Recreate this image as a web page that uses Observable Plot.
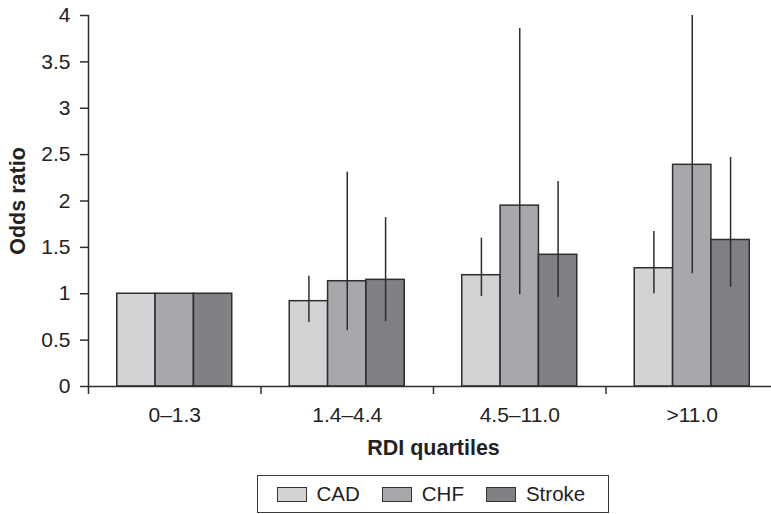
<!DOCTYPE html>
<html>
<head>
<meta charset="utf-8">
<script src="https://cdn.jsdelivr.net/npm/d3@7"></script>
<script src="https://cdn.jsdelivr.net/npm/@observablehq/plot@0.6"></script>
<style>
  html, body { margin: 0; padding: 0; background: #fff; overflow: hidden; width: 771px; height: 514px; }
  #chart { position: relative; width: 771px; height: 514px; }
  #chart svg { max-width: none !important; display: block; }
  svg [aria-label="y-axis label"] text, svg [aria-label="fx-axis label"] text { font-weight: bold; font-size: 21.5px; }
  .legend { position: absolute; left: 257px; top: 475px; width: 352px; height: 38px; box-sizing: border-box;
    border: 1.5px solid #3a3a3a; display: flex; align-items: center; justify-content: flex-start; padding-left: 18.5px;
    font-family: "Liberation Sans", Arial, sans-serif; font-size: 20.5px; color: #222; background: #fff; }
  .item { display: flex; align-items: center; margin-right: 22px; }
  .sw { width: 30px; height: 15px; box-sizing: border-box; border: 1.5px solid #333; margin-right: 10px; }
</style>
</head>
<body>
<div id="chart"></div>
<script>
const categories = ["0–1.3", "1.4–4.4", "4.5–11.0", ">11.0"];
const seriesNames = ["CAD", "CHF", "Stroke"];
const colors = ["#d2d3d5", "#a7a8ac", "#808185"];
// odds ratio per series, by category
const cadValues    = [1.0, 0.92, 1.20, 1.275];
const chfValues    = [1.0, 1.135, 1.95, 2.39];
const strokeValues = [1.0, 1.15, 1.42, 1.58];
// confidence interval bounds (null = none shown)
const cadLow     = [null, 0.69, 0.97, 1.00];
const cadHigh    = [null, 1.19, 1.60, 1.67];
const chfLow     = [null, 0.60, 0.99, 1.215];
const chfHigh    = [null, 2.31, 3.86, 4.0];
const strokeLow  = [null, 0.70, 0.96, 1.07];
const strokeHigh = [null, 1.82, 2.21, 2.47];
const yTicks = [0, 0.5, 1, 1.5, 2, 2.5, 3, 3.5, 4];

const valuesBySeries = [cadValues, chfValues, strokeValues];
const lowBySeries = [cadLow, chfLow, strokeLow];
const highBySeries = [cadHigh, chfHigh, strokeHigh];

const rows = [];
categories.forEach((c, i) => {
  seriesNames.forEach((s, j) => {
    rows.push({cat: c, series: s, value: valuesBySeries[j][i], lo: lowBySeries[j][i], hi: highBySeries[j][i]});
  });
});
const errRows = rows.filter(d => d.lo != null);

const W = 780;
const plot = Plot.plot({
  width: W,
  height: 470,
  marginLeft: 88,
  marginRight: 2,
  marginTop: 15,
  marginBottom: 84,
  facet: {marginTop: 0, marginBottom: 0, marginLeft: 0, marginRight: 0},
  style: {fontFamily: "'Liberation Sans', Arial, sans-serif", fontSize: "21px", color: "#222", background: "#fff", maxWidth: "none"},
  fx: {domain: categories, padding: 0, round: false, label: null},
  x: {domain: seriesNames, paddingInner: 0, paddingOuter: 0.75, round: false, axis: null},
  y: {domain: [0, 4], ticks: yTicks, label: null},
  color: {domain: seriesNames, range: colors},
  marks: [
    Plot.barY(rows, {fx: "cat", x: "series", y: "value", fill: "series", stroke: "#2e2e2e", strokeWidth: 1.5, inset: 0}),
    Plot.ruleX(errRows, {fx: "cat", x: "series", y1: "lo", y2: "hi", stroke: "#2e2e2e", strokeWidth: 1.5}),
    Plot.ruleY([0], {stroke: "#2e2e2e", strokeWidth: 1.5}),
    Plot.frame({anchor: "left", facet: "super", stroke: "#2e2e2e", strokeWidth: 1.5}),
    Plot.axisY({ticks: yTicks, tickSize: 8, tickPadding: 10, tickFormat: d3.format("~g"), stroke: "#2e2e2e", strokeWidth: 1.5,
      label: "Odds ratio", labelArrow: "none", labelAnchor: "center", labelOffset: 79}),
    Plot.axisFx({anchor: "bottom", tickSize: 8, fill: "none", stroke: "#2e2e2e", strokeWidth: 1.5, dx: -86.25, label: null}),
    Plot.axisFx({anchor: "bottom", tickSize: 0, tickPadding: 21, label: "RDI quartiles", labelArrow: "none", labelAnchor: "center", labelOffset: 68})
  ]
});
const chart = document.getElementById("chart");
chart.appendChild(plot);

const legend = document.createElement("div");
legend.className = "legend";
seriesNames.forEach((s, j) => {
  const item = document.createElement("div");
  item.className = "item";
  const sw = document.createElement("span");
  sw.className = "sw";
  sw.style.background = colors[j];
  const t = document.createElement("span");
  t.textContent = s;
  item.appendChild(sw); item.appendChild(t);
  legend.appendChild(item);
});
chart.appendChild(legend);
</script>
</body>
</html>
